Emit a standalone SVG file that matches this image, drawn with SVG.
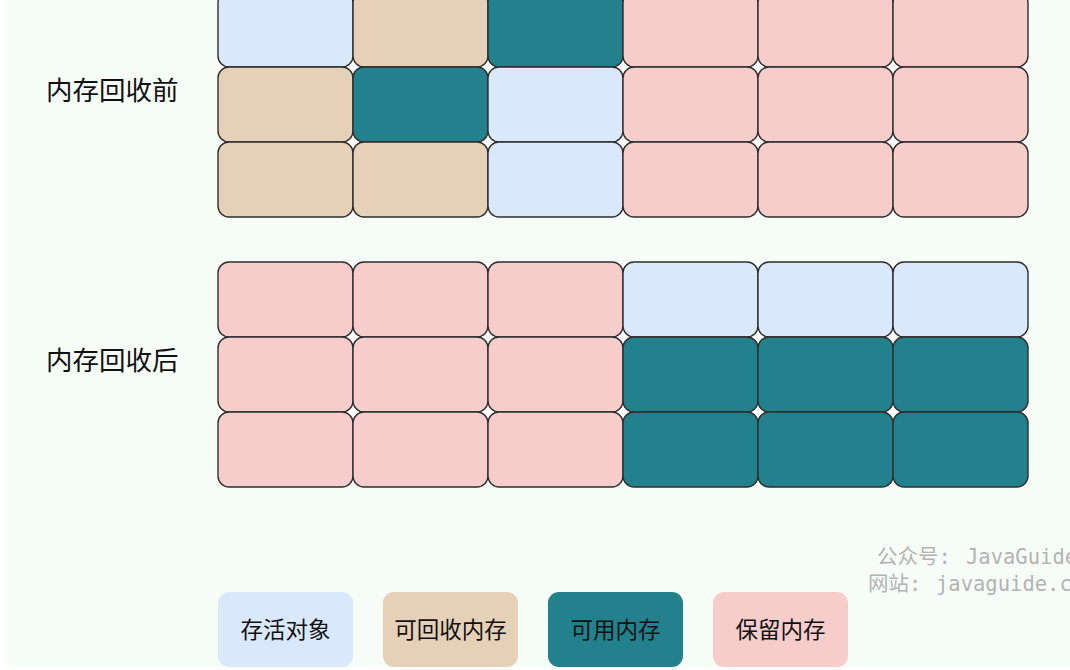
<svg xmlns="http://www.w3.org/2000/svg" width="1070" height="670" viewBox="0 0 1070 670">
<style>
.c{stroke:#2e2e2e;stroke-width:1.4}
.b{fill:#dae8fc}.t{fill:#e6d0b8}.g{fill:#23818d}.p{fill:#f6cdcb}
.lbl{font-family:"Noto Sans CJK SC","Noto Sans",sans-serif;font-size:26.5px;fill:#111}
.leg{font-family:"Noto Sans CJK SC","Noto Sans",sans-serif;font-size:22.5px;fill:#111;text-anchor:middle}
.wm{font-family:"DejaVu Sans Mono","Noto Sans CJK SC",monospace;font-size:20.5px;fill:#b3b3b3}
</style>
<defs>
<rect id="cell" width="135" height="75" rx="11" ry="11"/>
</defs>
<rect x="7" y="0" width="1063" height="667" fill="#f6fdf7"/>
<rect x="218" y="-8" width="810" height="225" fill="#ffffff"/>
<rect x="218" y="262" width="810" height="225" fill="#ffffff"/>
<text class="lbl" x="46" y="100">内存回收前</text>
<text class="lbl" x="46" y="370">内存回收后</text>
<g id="grid-before">
<use href="#cell" x="218" y="-8" class="c b"/>
<use href="#cell" x="353" y="-8" class="c t"/>
<use href="#cell" x="488" y="-8" class="c g"/>
<use href="#cell" x="623" y="-8" class="c p"/>
<use href="#cell" x="758" y="-8" class="c p"/>
<use href="#cell" x="893" y="-8" class="c p"/>
<use href="#cell" x="218" y="67" class="c t"/>
<use href="#cell" x="353" y="67" class="c g"/>
<use href="#cell" x="488" y="67" class="c b"/>
<use href="#cell" x="623" y="67" class="c p"/>
<use href="#cell" x="758" y="67" class="c p"/>
<use href="#cell" x="893" y="67" class="c p"/>
<use href="#cell" x="218" y="142" class="c t"/>
<use href="#cell" x="353" y="142" class="c t"/>
<use href="#cell" x="488" y="142" class="c b"/>
<use href="#cell" x="623" y="142" class="c p"/>
<use href="#cell" x="758" y="142" class="c p"/>
<use href="#cell" x="893" y="142" class="c p"/>
</g>
<g id="grid-after">
<use href="#cell" x="218" y="262" class="c p"/>
<use href="#cell" x="353" y="262" class="c p"/>
<use href="#cell" x="488" y="262" class="c p"/>
<use href="#cell" x="623" y="262" class="c b"/>
<use href="#cell" x="758" y="262" class="c b"/>
<use href="#cell" x="893" y="262" class="c b"/>
<use href="#cell" x="218" y="337" class="c p"/>
<use href="#cell" x="353" y="337" class="c p"/>
<use href="#cell" x="488" y="337" class="c p"/>
<use href="#cell" x="623" y="337" class="c g"/>
<use href="#cell" x="758" y="337" class="c g"/>
<use href="#cell" x="893" y="337" class="c g"/>
<use href="#cell" x="218" y="412" class="c p"/>
<use href="#cell" x="353" y="412" class="c p"/>
<use href="#cell" x="488" y="412" class="c p"/>
<use href="#cell" x="623" y="412" class="c g"/>
<use href="#cell" x="758" y="412" class="c g"/>
<use href="#cell" x="893" y="412" class="c g"/>
</g>
<g id="connectors"></g>
<g id="legend-live"><use href="#cell" x="218" y="592" class="b"/><text class="leg" x="285.5" y="638">存活对象</text></g>
<g id="legend-reclaimable"><use href="#cell" x="383" y="592" class="t"/><text class="leg" x="450.5" y="638">可回收内存</text></g>
<g id="legend-free"><use href="#cell" x="548" y="592" class="g"/><text class="leg" x="615.5" y="638">可用内存</text></g>
<g id="legend-reserved"><use href="#cell" x="713" y="592" class="p"/><text class="leg" x="780.5" y="638">保留内存</text></g>
<text class="wm" x="877" y="564">公众号:<tspan x="966">JavaGuide</tspan></text>
<text class="wm" x="868" y="591">网站:<tspan x="936">javaguide.cn</tspan></text>
</svg>
